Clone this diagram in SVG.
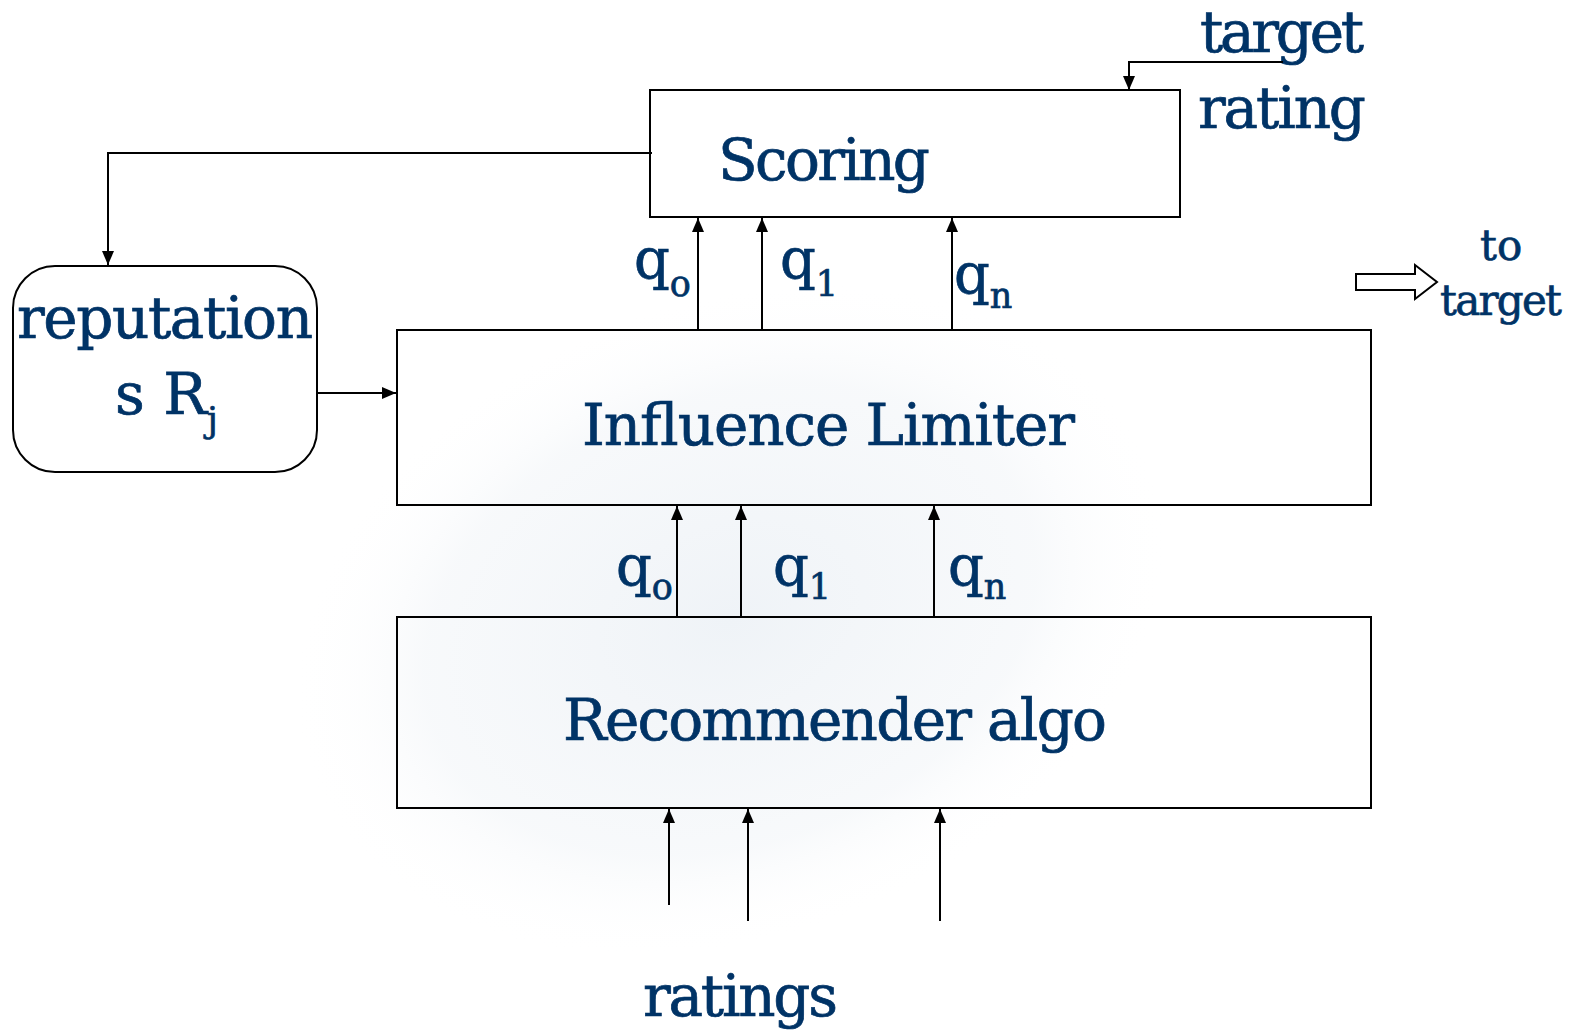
<svg xmlns="http://www.w3.org/2000/svg" width="1569" height="1031" viewBox="0 0 1569 1031">
<defs>
<marker id="ah" markerUnits="userSpaceOnUse" markerWidth="14" markerHeight="12" refX="14" refY="6" orient="auto">
<path d="M0,0 L14,6 L0,12 z" fill="#000"/>
</marker>
<radialGradient id="wm" cx="0.5" cy="0.5" r="0.5">
<stop offset="0" stop-color="#dfe7ef" stop-opacity="0.5"/>
<stop offset="0.7" stop-color="#e6ecf2" stop-opacity="0.3"/>
<stop offset="1" stop-color="#ffffff" stop-opacity="0"/>
</radialGradient>
<style>
.box{fill:none;stroke:#000;stroke-width:2}
.ln{fill:none;stroke:#000;stroke-width:2}
.ar{marker-end:url(#ah)}
text{font-family:"DejaVu Serif","Liberation Serif",serif;fill:#003366;stroke:#003366;stroke-width:0.7}
.big{font-size:58px}
.q{font-size:56px}
.sub{font-size:35px}
.mid{font-size:42px}
</style>
</defs>
<rect width="1569" height="1031" fill="#fff"/>
<ellipse cx="730" cy="620" rx="450" ry="320" fill="url(#wm)" transform="rotate(-20 730 620)"/>

<g id="scoring">
<rect class="box" x="650" y="90" width="530" height="127"/>
<text class="big" x="718" y="180" textLength="212">Scoring</text>
</g>
<g id="influence-limiter">
<rect class="box" x="397" y="330" width="974" height="175"/>
<text class="big" x="582" y="445" textLength="493">Influence Limiter</text>
</g>
<g id="recommender">
<rect class="box" x="397" y="617" width="974" height="191"/>
<text class="big" x="563" y="740" textLength="544">Recommender algo</text>
</g>
<g id="reputations">
<rect class="box" x="13" y="266" width="304" height="206" rx="42" ry="42"/>
<text class="big" x="17" y="338" textLength="296">reputation</text>
<text class="big" x="115" y="414">s R<tspan class="sub" dy="18">j</tspan></text>
</g>
<g id="target-rating-label">
<text class="big" x="1200" y="52" textLength="164">target</text>
<text class="big" x="1198" y="128" textLength="168">rating</text>
</g>
<g id="to-target">
<polygon points="1356,274 1415,274 1415,265 1437,282 1415,299 1415,290 1356,290" fill="#fff" stroke="#000" stroke-width="2"/>
<text class="mid" x="1480" y="260">to</text>
<text class="mid" x="1440" y="315" textLength="122">target</text>
</g>
<g id="ratings-label">
<text class="big" x="643" y="1016" textLength="195">ratings</text>
</g>
<g id="labels">
<text class="q" x="634" y="278">q<tspan class="sub" dy="18">o</tspan></text>
<text class="q" x="780" y="278">q<tspan class="sub" dy="18">1</tspan></text>
<text class="q" x="954" y="293">q<tspan class="sub" dy="15">n</tspan></text>
<text class="q" x="616" y="585">q<tspan class="sub" dy="14">o</tspan></text>
<text class="q" x="773" y="585">q<tspan class="sub" dy="14">1</tspan></text>
<text class="q" x="948" y="585">q<tspan class="sub" dy="14">n</tspan></text>
</g>
<g id="connectors">
<polyline class="ln ar" points="652,153 108,153 108,265"/>
<line class="ln ar" x1="317" y1="393" x2="396" y2="393"/>
<polyline class="ln ar" points="1283,62 1129,62 1129,90"/>
<line class="ln ar" x1="698" y1="330" x2="698" y2="218"/>
<line class="ln ar" x1="762" y1="330" x2="762" y2="218"/>
<line class="ln ar" x1="952" y1="330" x2="952" y2="218"/>
<line class="ln ar" x1="677" y1="617" x2="677" y2="506"/>
<line class="ln ar" x1="741" y1="617" x2="741" y2="506"/>
<line class="ln ar" x1="934" y1="617" x2="934" y2="506"/>
<line class="ln ar" x1="669" y1="905" x2="669" y2="809"/>
<line class="ln ar" x1="748" y1="921" x2="748" y2="809"/>
<line class="ln ar" x1="940" y1="921" x2="940" y2="809"/>
</g>
</svg>
